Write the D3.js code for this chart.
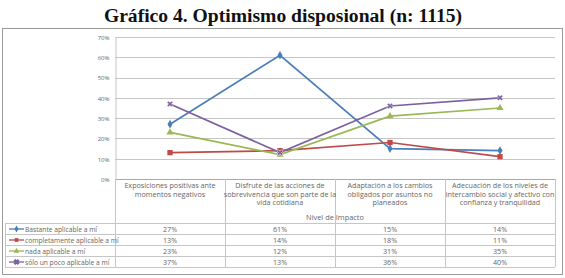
<!DOCTYPE html>
<html><head><meta charset="utf-8">
<script src="https://cdn.jsdelivr.net/npm/d3@7"></script>
<style>body{margin:0;background:#fff}svg{display:block}</style>
</head><body>
<svg id="c" width="565" height="278"></svg>
<script>
const title = "Gráfico 4. Optimismo disposional (n: 1115)";
const categories = [
  ["Exposiciones positivas ante", "momentos negativos"],
  ["Disfrute de las acciones de", "sobrevivencia que son parte de la", "vida cotidiana"],
  ["Adaptación a los cambios", "obligados por asuntos no", "planeados"],
  ["Adecuación de los niveles de", "intercambio social y afectivo con", "confianza y tranquilidad"]
];
const seriesNames = ["Bastante aplicable a mí", "completamente aplicable a mí", "nada aplicable a mí", "sólo un poco aplicable a mí"];
const bastante = [27, 61, 15, 14];
const completamente = [13, 14, 18, 11];
const nada = [23, 12, 31, 35];
const soloUnPoco = [37, 13, 36, 40];
const yTicks = [0, 10, 20, 30, 40, 50, 60, 70];
const axisTitle = "Nivel de Impacto";

(function () {
const seriesValues = [bastante, completamente, nada, soloUnPoco];
const colors = ["#4a7ebb", "#be4b48", "#98b954", "#7d60a0"];
const markers = [d3.symbolDiamond, d3.symbolSquare, d3.symbolTriangle, d3.symbolCross];

const svg = d3.select("#c");
svg.append("text").attr("x", 283).attr("y", 21.5).attr("text-anchor", "middle")
  .attr("font-family", "Liberation Serif, Times New Roman, serif").attr("font-weight", "bold")
  .attr("font-size", 19.6).attr("fill", "#111").text(title);

svg.append("rect").attr("x", 2.5).attr("y", 28.5).attr("width", 560).attr("height", 246)
  .attr("fill", "#fff").attr("stroke", "#9a9a9a").attr("stroke-width", 1);

const pL = 115, pR = 555, pT = 37, pB = 179;
const x = d3.scaleBand().domain(d3.range(categories.length)).range([pL, pR]);
const y = d3.scaleLinear().domain([0, 70]).range([pB, pT]);
const font = "Open Sans, Liberation Sans, sans-serif";
const txt = "#666";

svg.append("g").selectAll("line").data(yTicks).join("line")
  .attr("x1", pL).attr("x2", pR).attr("y1", d => Math.round(y(d)) + 0.5).attr("y2", d => Math.round(y(d)) + 0.5)
  .attr("stroke", d => d === 0 ? "#a8a8a8" : "#c6c6c6").attr("stroke-width", 1);

const yAxis = d3.axisLeft(y).tickValues(yTicks).tickFormat(d => d + "%").tickSize(0).tickPadding(6);
const ga = svg.append("g").attr("transform", `translate(${pL + 0.5},0.5)`).call(yAxis);
ga.select(".domain").attr("stroke", "#c6c6c6");
ga.selectAll("text").attr("font-family", font).attr("font-size", 6).attr("fill", txt);

const colLines = d3.range(categories.length + 1).map(i => i === categories.length ? pR : x(i));
svg.append("g").selectAll("line").data(colLines).join("line")
  .attr("x1", d => Math.round(d) + 0.5).attr("x2", d => Math.round(d) + 0.5)
  .attr("y1", pB).attr("y2", 267).attr("stroke", "#c6c6c6");

const cl = svg.append("g");
categories.forEach((lines, i) => {
  const t = cl.append("text").attr("x", x(i) + x.bandwidth() / 2).attr("y", 188)
    .attr("text-anchor", "middle").attr("font-family", font).attr("font-size", 7.2).attr("fill", txt);
  lines.forEach((l, j) => t.append("tspan").attr("x", x(i) + x.bandwidth() / 2).attr("dy", j === 0 ? 0 : 8.6).text(l));
});
svg.append("text").attr("x", (pL + pR) / 2).attr("y", 220).attr("text-anchor", "middle")
  .attr("font-family", font).attr("font-size", 7.4).attr("fill", txt).text(axisTitle);

const rowH = 11, tTop = 223, tLeft = 5;
const rows = svg.append("g");
for (let r = 0; r <= seriesNames.length; r++) {
  rows.append("line").attr("x1", tLeft).attr("x2", pR).attr("y1", tTop + r * rowH + 0.5).attr("y2", tTop + r * rowH + 0.5)
    .attr("stroke", "#c6c6c6");
}
rows.append("line").attr("x1", tLeft + 0.5).attr("x2", tLeft + 0.5).attr("y1", tTop).attr("y2", tTop + 4 * rowH).attr("stroke", "#c6c6c6");

seriesNames.forEach((name, r) => {
  const cy = tTop + r * rowH + rowH / 2 + 0.5;
  rows.append("line").attr("x1", 9).attr("x2", 24).attr("y1", cy).attr("y2", cy).attr("stroke", colors[r]).attr("stroke-width", 1.3);
  rows.append("path").attr("d", d3.symbol().type(markers[r]).size(14)()).attr("transform", `translate(16.5,${cy})${r === 3 ? " rotate(45)" : ""}`)
    .attr("fill", colors[r]).attr("stroke", r === 3 ? colors[r] : "none");
  rows.append("text").attr("x", 25).attr("y", cy + 2.5).attr("font-family", font).attr("font-size", 6.7).attr("fill", txt).text(name);
  seriesValues[r].forEach((v, i) => {
    rows.append("text").attr("x", x(i) + x.bandwidth() / 2).attr("y", cy + 2.5).attr("text-anchor", "middle")
      .attr("font-family", font).attr("font-size", 7.2).attr("fill", txt).text(v + "%");
  });
});

const line = d3.line().x((d, i) => x(i) + x.bandwidth() / 2).y(d => y(d));
const g = svg.append("g");
seriesValues.forEach((vals, s) => {
  g.append("path").attr("d", line(vals)).attr("fill", "none").attr("stroke", colors[s]).attr("stroke-width", 1.7);
});
seriesValues.forEach((vals, s) => {
  g.selectAll(null).data(vals).join("path")
    .attr("d", d3.symbol().type(markers[s]).size(s === 1 ? 28 : 22)())
    .attr("transform", (d, i) => `translate(${x(i) + x.bandwidth() / 2},${y(d)})${s === 3 ? " rotate(45)" : ""}`)
    .attr("fill", colors[s]).attr("stroke", s === 3 ? "#fff" : "none").attr("stroke-width", 0.5);
});
})();
</script>
</body></html>
